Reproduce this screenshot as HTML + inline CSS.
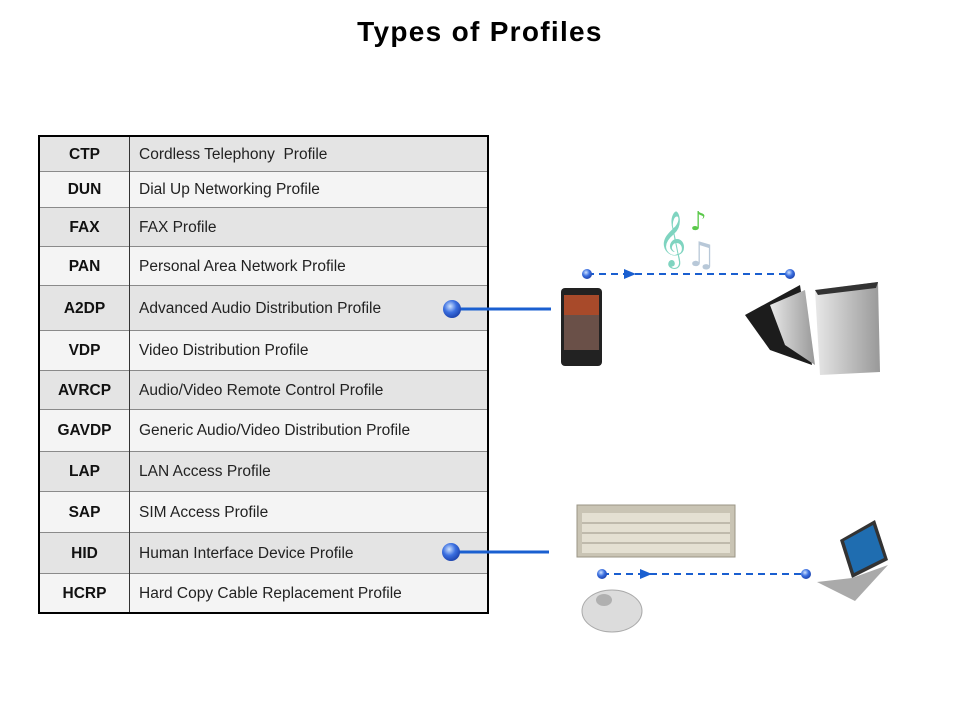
<!DOCTYPE html>
<html><head><meta charset="utf-8"><style>
body{margin:0;width:960px;height:720px;background:#fff;position:relative;overflow:hidden;font-family:"Liberation Sans",sans-serif}
h1{position:absolute;top:16px;left:0;width:960px;text-align:center;margin:0;font-size:28px;letter-spacing:1.3px;font-weight:bold;color:#000}
table{position:absolute;left:38px;top:135px;width:451px;border-collapse:collapse;border:2px solid #000}
td{font-size:15.5px;color:#222;border-top:1.5px solid #8a8a8a;padding:2px 0 0 0}
td.a{width:89px;text-align:center;font-weight:bold;border-right:1.5px solid #333;color:#111}
td.b{padding-left:9px}
tr.g td{background:#e4e4e4}
tr.l td{background:#f4f4f4}
</style></head><body>
<h1>Types of Profiles</h1>
<table>
<tr class="g" style="height:35px"><td class="a">CTP</td><td class="b">Cordless Telephony&nbsp; Profile</td></tr>
<tr class="l" style="height:36px"><td class="a">DUN</td><td class="b">Dial Up Networking Profile</td></tr>
<tr class="g" style="height:39px"><td class="a">FAX</td><td class="b">FAX Profile</td></tr>
<tr class="l" style="height:39px"><td class="a">PAN</td><td class="b">Personal Area Network Profile</td></tr>
<tr class="g" style="height:45px"><td class="a">A2DP</td><td class="b">Advanced Audio Distribution Profile</td></tr>
<tr class="l" style="height:40px"><td class="a">VDP</td><td class="b">Video Distribution Profile</td></tr>
<tr class="g" style="height:39px"><td class="a">AVRCP</td><td class="b">Audio/Video Remote Control Profile</td></tr>
<tr class="l" style="height:42px"><td class="a">GAVDP</td><td class="b">Generic Audio/Video Distribution Profile</td></tr>
<tr class="g" style="height:40px"><td class="a">LAP</td><td class="b">LAN Access Profile</td></tr>
<tr class="l" style="height:41px"><td class="a">SAP</td><td class="b">SIM Access Profile</td></tr>
<tr class="g" style="height:41px"><td class="a">HID</td><td class="b">Human Interface Device Profile</td></tr>
<tr class="l" style="height:40px"><td class="a">HCRP</td><td class="b">Hard Copy Cable Replacement Profile</td></tr>
</table>
<svg width="960" height="720" style="position:absolute;left:0;top:0">
<defs>
<radialGradient id="ball" cx="0.4" cy="0.35" r="0.7"><stop offset="0" stop-color="#cfe3ff"/><stop offset="0.5" stop-color="#3b6fe0"/><stop offset="1" stop-color="#1a3fa8"/></radialGradient>
<linearGradient id="spk" x1="0" x2="1"><stop offset="0" stop-color="#e8e8e8"/><stop offset="1" stop-color="#999"/></linearGradient>
</defs>
<line x1="452" y1="309" x2="551" y2="309" stroke="#1a5fd0" stroke-width="3"/>
<circle cx="452" cy="309" r="9" fill="url(#ball)"/>
<line x1="587" y1="274" x2="790" y2="274" stroke="#1a5fd0" stroke-width="2" stroke-dasharray="7,5"/>
<polygon points="624,269 636,274 624,279" fill="#1a5fd0"/>
<circle cx="587" cy="274" r="5" fill="url(#ball)"/>
<circle cx="790" cy="274" r="5" fill="url(#ball)"/>
<text x="658" y="255" font-size="48" fill="#7fd4c0" font-family="DejaVu Sans">𝄞</text>
<text x="690" y="230" font-size="26" fill="#5ac84a" font-family="DejaVu Sans">♪</text>
<text x="686" y="266" font-size="34" fill="#b8c8d8" font-family="DejaVu Sans">♫</text>
<rect x="561" y="288" width="41" height="78" rx="4" fill="#222"/>
<rect x="564" y="295" width="35" height="55" fill="#6a5048"/>
<rect x="564" y="295" width="35" height="20" fill="#a84a2a"/>
<polygon points="745,315 800,285 812,365 770,350" fill="#1c1c1c"/>
<polygon points="770,305 805,290 815,365 785,345" fill="url(#spk)"/>
<polygon points="815,290 878,282 880,372 820,375" fill="url(#spk)"/>
<polygon points="815,290 878,282 876,288 818,295" fill="#333"/>
<line x1="451" y1="552" x2="549" y2="552" stroke="#1a5fd0" stroke-width="3"/>
<circle cx="451" cy="552" r="9" fill="url(#ball)"/>
<line x1="602" y1="574" x2="806" y2="574" stroke="#1a5fd0" stroke-width="2" stroke-dasharray="7,5"/>
<polygon points="640,569 652,574 640,579" fill="#1a5fd0"/>
<circle cx="602" cy="574" r="5" fill="url(#ball)"/>
<circle cx="806" cy="574" r="5" fill="url(#ball)"/>
<rect x="577" y="505" width="158" height="52" fill="#c9c4b4" stroke="#9a9585"/>
<rect x="582" y="513" width="148" height="40" fill="#e4e0d2"/>
<g stroke="#9a9585" stroke-width="1">
<line x1="582" y1="523" x2="730" y2="523"/><line x1="582" y1="533" x2="730" y2="533"/><line x1="582" y1="543" x2="730" y2="543"/>
</g>
<ellipse cx="612" cy="611" rx="30" ry="21" fill="#dcdcdc" stroke="#aaa"/>
<ellipse cx="604" cy="600" rx="8" ry="6" fill="#b0b0b0"/>
<polygon points="840,540 875,520 888,560 852,578" fill="#333"/>
<polygon points="844,541 873,525 884,558 854,573" fill="#1f6db0"/>
<polygon points="817,582 852,578 888,565 855,601" fill="#aaa"/>
</svg>
</body></html>
